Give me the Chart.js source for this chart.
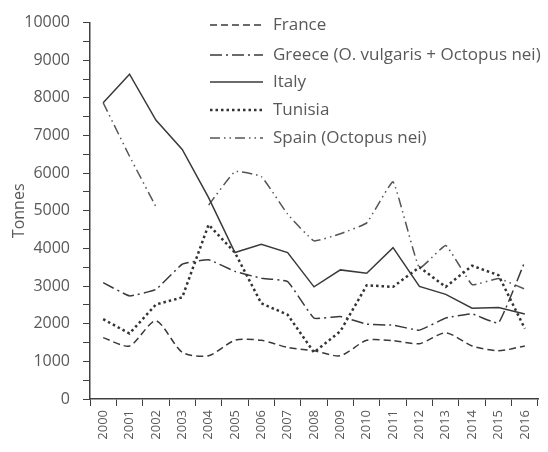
<!DOCTYPE html>
<html>
<head>
<meta charset="utf-8">
<script src="https://cdn.jsdelivr.net/npm/chart.js@4.4.1/dist/chart.umd.min.js"></script>
<style>
  html, body { margin: 0; padding: 0; background: #fff; }
  #wrap { width: 548px; height: 452px; }
</style>
</head>
<body>
<div id="wrap"><canvas id="octopusChart"></canvas></div>
<script>
const years = ['2000', '2001', '2002', '2003', '2004', '2005', '2006', '2007', '2008',
               '2009', '2010', '2011', '2012', '2013', '2014', '2015', '2016'];
const seriesNames = ['France', 'Greece (O. vulgaris + Octopus nei)', 'Italy', 'Tunisia', 'Spain (Octopus nei)'];
const france  = [1630, 1410, 2080, 1240, 1150, 1560, 1560, 1370, 1280, 1150, 1560, 1550, 1470, 1760, 1410, 1280, 1410];
const greece  = [3090, 2740, 2910, 3580, 3700, 3390, 3210, 3120, 2150, 2190, 1990, 1960, 1830, 2150, 2260, 2020, 3650];
const italy   = [7870, 8630, 7410, 6630, 5350, 3890, 4110, 3890, 2980, 3430, 3340, 4020, 2990, 2780, 2410, 2430, 2260];
const tunisia = [2120, 1740, 2510, 2700, 4630, 3890, 2540, 2240, 1240, 1800, 3020, 2980, 3500, 2980, 3540, 3290, 1870];
const spain   = [7870, 6450, 5110, null, 5150, 6040, 5910, 4910, 4200, 4390, 4680, 5770, 3480, 4080, 3040, 3200, 2920];

const textColor = '#595959';
const axisColor = '#404040';
const fontFamily = '"Open Sans", sans-serif';

// legend drawn inside the plot, lines with each dataset's dash
const lineLegend = {
    id: 'lineLegend',
    afterDraw(chart) {
        const ctx = chart.ctx;
        const x0 = 210, x1 = 263, tx = 273;
        const rows = [25, 55, 82, 110, 138];
        chart.data.datasets.forEach(function(ds, i) {
            const y = rows[i];
            ctx.save();
            ctx.strokeStyle = ds.borderColor;
            ctx.lineWidth = ds.borderWidth;
            ctx.setLineDash(ds.borderDash || []);
            ctx.beginPath();
            ctx.moveTo(x0, y);
            ctx.lineTo(x1, y);
            ctx.stroke();
            ctx.setLineDash([]);
            ctx.fillStyle = textColor;
            ctx.font = '17px ' + fontFamily;
            ctx.textBaseline = 'middle';
            ctx.fillText(ds.label, tx, y);
            ctx.restore();
        });
    }
};

function makeSet(label, data, dash, width, color, tension) {
    return {
        label: label,
        data: data,
        borderColor: color,
        borderWidth: width,
        borderDash: dash,
        pointRadius: 0,
        pointHoverRadius: 0,
        tension: tension,
        spanGaps: false,
        fill: false
    };
}

const ctx = document.getElementById('octopusChart').getContext('2d');
const chart = new Chart(ctx, {
    type: 'line',
    data: {
        labels: years,
        datasets: [
            makeSet(seriesNames[0], france, [7, 4], 1.5, '#3a3a3a', 0.25),
            makeSet(seriesNames[1], greece, [12, 4, 2, 4], 1.5, '#3a3a3a', 0.1),
            makeSet(seriesNames[2], italy, [], 1.5, '#3a3a3a', 0),
            makeSet(seriesNames[3], tunisia, [2.5, 3], 2.5, '#333333', 0),
            makeSet(seriesNames[4], spain, [10, 4, 1.5, 4, 1.5, 4], 1.5, '#555555', 0.1)
        ]
    },
    options: {
        responsive: true,
        maintainAspectRatio: false,
        animation: false,
        layout: { padding: { left: 0, top: 16, right: 10, bottom: 0 } },
        plugins: {
            legend: { display: false },
            tooltip: { enabled: false }
        },
        scales: {
            x: {
                type: 'category',
                offset: true,
                afterFit: function(scale) { scale.height = 53; },
                grid: {
                    offset: true,
                    drawOnChartArea: false,
                    drawTicks: true,
                    tickLength: 7,
                    color: axisColor
                },
                border: { color: axisColor, width: 1.5 },
                ticks: {
                    color: textColor,
                    font: { family: fontFamily, size: 13 },
                    maxRotation: 90,
                    minRotation: 90,
                    autoSkip: false,
                    padding: 4
                }
            },
            y: {
                min: 0,
                max: 10000,
                afterFit: function(scale) { scale.width = 90; },
                grid: {
                    drawOnChartArea: false,
                    drawTicks: true,
                    tickLength: 7,
                    color: axisColor
                },
                border: { color: axisColor, width: 1.5 },
                ticks: {
                    stepSize: 500,
                    autoSkip: false,
                    color: textColor,
                    padding: 13,
                    font: { family: fontFamily, size: 16 },
                    callback: function(value) { return value % 1000 === 0 ? value : ''; }
                },
                title: {
                    display: true,
                    text: 'Tonnes',
                    color: textColor,
                    font: { family: fontFamily, size: 16 },
                    padding: { top: 10, bottom: 0 }
                }
            }
        }
    },
    plugins: [lineLegend]
});
</script>
</body>
</html>
